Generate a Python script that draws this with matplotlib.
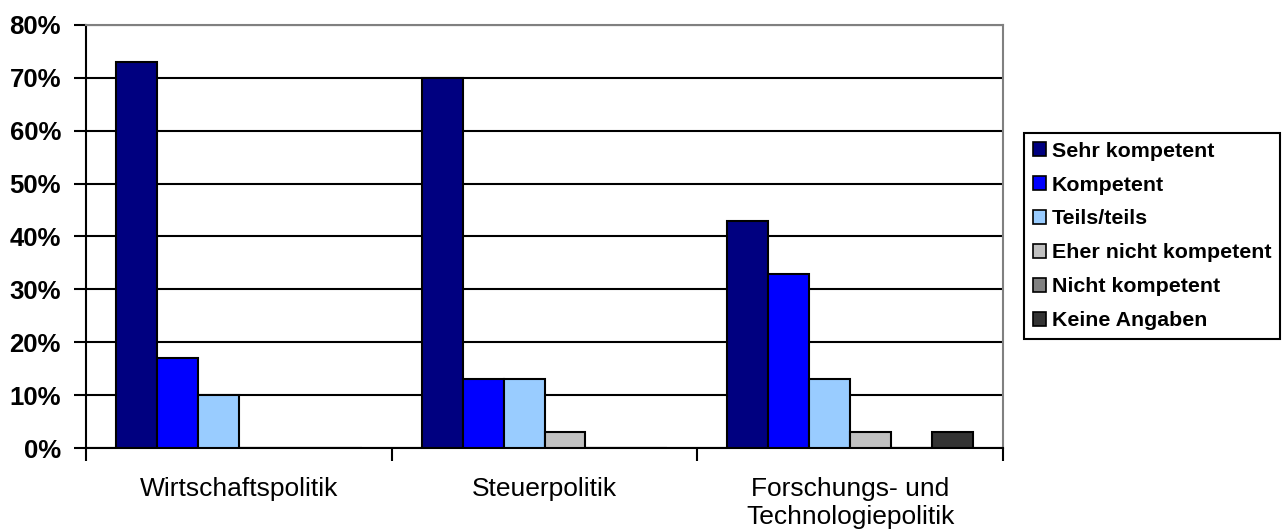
import numpy as np
import matplotlib
matplotlib.use("Agg")
import matplotlib.pyplot as plt
from matplotlib.patches import Patch
from matplotlib.ticker import PercentFormatter

plt.rcParams['font.family'] = ['Liberation Sans', 'DejaVu Sans']

# data (percent of respondents)
categories = ["Wirtschaftspolitik", "Steuerpolitik", "Forschungs- und\nTechnologiepolitik"]
series_names = ["Sehr kompetent", "Kompetent", "Teils/teils",
                "Eher nicht kompetent", "Nicht kompetent", "Keine Angaben"]
sehr_kompetent = [73, 70, 43]
kompetent = [17, 13, 33]
teils_teils = [10, 13, 13]
eher_nicht = [0, 3, 3]
nicht_kompetent = [0, 0, 0]
keine_angaben = [0, 0, 3]
colors = ["#000080", "#0000FF", "#99CCFF", "#C0C0C0", "#808080", "#333333"]

all_series = [sehr_kompetent, kompetent, teils_teils,
              eher_nicht, nicht_kompetent, keine_angaben]

fig = plt.figure(figsize=(12.83, 5.31), dpi=100)
ax = fig.add_axes([86/1283, 1 - 448/531, (1003 - 86)/1283, (448 - 25)/531])

x = np.arange(len(categories))
width = 0.134
offsets = (np.arange(len(all_series)) - (len(all_series) - 1) / 2) * width

for values, name, color, off in zip(all_series, series_names, colors, offsets):
    ax.bar(x + off, values, width=width, color=color, edgecolor="black",
           linewidth=1.5, label=name, zorder=3)

ax.set_xlim(-0.5, len(categories) - 0.5)
ax.set_ylim(0, 80)
ax.set_yticks(np.arange(0, 81, 10))
ax.yaxis.set_major_formatter(PercentFormatter(decimals=0))
for lbl in ax.get_yticklabels():
    lbl.set_fontweight("bold")
ax.tick_params(axis="y", labelsize=18.5, length=9, width=1.5, pad=9)

# category labels centred, ticks at the boundaries
ax.set_xticks(np.arange(-0.5, len(categories), 1.0))
ax.set_xticklabels([])
ax.set_xticks(x, minor=True)
ax.set_xticklabels(categories, minor=True, fontsize=19)
ax.tick_params(axis="x", which="major", length=9, width=1.5)
ax.tick_params(axis="x", which="minor", length=0, pad=21)

ax.yaxis.grid(True, color="black", linewidth=1.5, zorder=0)
ax.set_axisbelow(True)
for side in ["left", "bottom"]:
    ax.spines[side].set_linewidth(1.5)
    ax.spines[side].set_color("black")
for side in ["top", "right"]:
    ax.spines[side].set_linewidth(1.5)
    ax.spines[side].set_color("#808080")

handles = [Patch(facecolor=c, edgecolor="black", linewidth=1.2) for c in colors]
leg = fig.legend(handles, series_names, loc="upper left",
                 bbox_to_anchor=(1024/1283, 1 - 133/531), borderaxespad=0,
                 prop={"weight": "bold", "size": 15.4},
                 handlelength=0.65, handleheight=0.65, handletextpad=0.25,
                 labelspacing=0.7, borderpad=0.4, fancybox=False,
                 edgecolor="black", framealpha=1)
leg.get_frame().set_linewidth(1.5)

fig.savefig("out.png", dpi=100)
